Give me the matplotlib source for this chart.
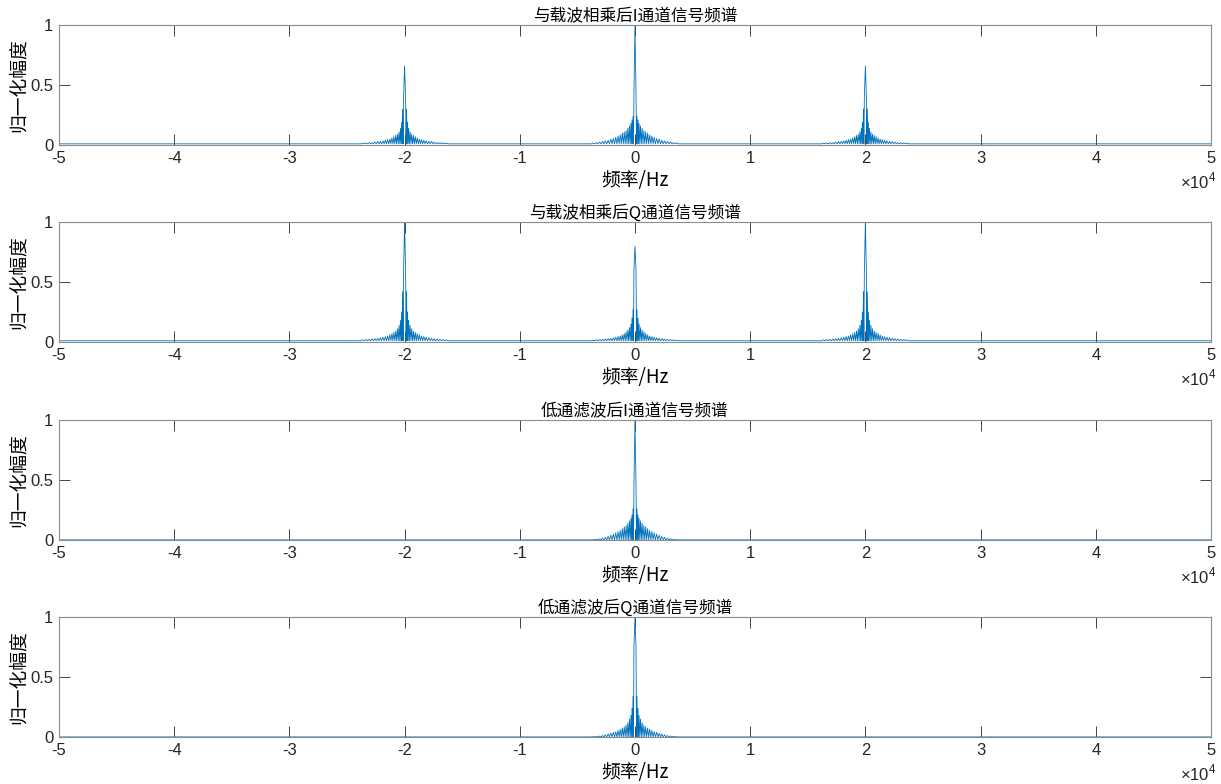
import numpy as np
import matplotlib
matplotlib.use("Agg")
import matplotlib.pyplot as plt

plt.rcParams['font.family'] = ['Noto Sans CJK SC', 'DejaVu Sans']
plt.rcParams['mathtext.fontset'] = 'custom'
plt.rcParams['mathtext.rm'] = 'Liberation Sans'

# Titles
titles = ["与载波相乘后I通道信号频谱", "与载波相乘后Q通道信号频谱",
          "低通滤波后I通道信号频谱", "低通滤波后Q通道信号频谱"]

# Axis ticks
x_ticks = [-50000, -40000, -30000, -20000, -10000, 0, 10000, 20000, 30000, 40000, 50000]
x_tick_labels = ["-5", "-4", "-3", "-2", "-1", "0", "1", "2", "3", "4", "5"]
y_ticks = [0, 0.5, 1]
y_tick_labels = ["0", "0.5", "1"]

# Spike offsets from each peak centre (Hz)
spike_offsets_hz = [0, 90, 170, 260, 350, 480, 620, 770, 930, 1100, 1280,
                    1470, 1670, 1880, 2100, 2330, 2570, 2820, 3080, 3350, 3630]

# Peak envelopes (normalized amplitude at each offset)
i_mix_center = [1.0, 0.43, 0.24, 0.21, 0.18, 0.16, 0.14, 0.12, 0.11, 0.10, 0.085,
                0.075, 0.065, 0.055, 0.05, 0.04, 0.035, 0.03, 0.025, 0.02, 0.018]
i_mix_side = [0.66, 0.39, 0.30, 0.19, 0.14, 0.11, 0.09, 0.08, 0.07, 0.06, 0.05,
              0.045, 0.04, 0.035, 0.03, 0.03, 0.025, 0.02, 0.02, 0.018, 0.015]
q_mix_center = [0.80, 0.60, 0.27, 0.20, 0.15, 0.12, 0.10, 0.085, 0.07, 0.06, 0.05,
                0.045, 0.04, 0.035, 0.03, 0.028, 0.025, 0.022, 0.02, 0.018, 0.015]
q_mix_side = [1.0, 0.57, 0.42, 0.25, 0.18, 0.14, 0.11, 0.09, 0.08, 0.07, 0.06,
              0.05, 0.045, 0.04, 0.035, 0.03, 0.028, 0.025, 0.022, 0.02, 0.018]
i_lpf_center = [1.0, 0.45, 0.26, 0.21, 0.18, 0.16, 0.14, 0.12, 0.11, 0.095, 0.08,
                0.07, 0.06, 0.05, 0.04, 0.03, 0.022, 0.015, 0.01, 0.006, 0.003]
q_lpf_center = [1.0, 0.75, 0.34, 0.24, 0.18, 0.15, 0.12, 0.10, 0.085, 0.075, 0.065,
                0.055, 0.045, 0.04, 0.032, 0.025, 0.018, 0.012, 0.008, 0.005, 0.003]

# Peak centres (Hz) and the floor level of each spectrum
mix_centers = [-20000, 0, 20000]
lpf_centers = [0]
mix_floor = 0.01
lpf_floor = 0.001


def make_peak(center, amps, floor):
    off = np.array(spike_offsets_hz, dtype=float)
    a = np.array(amps, dtype=float)
    rf, ra = [], []
    for i in range(1, len(off)):
        rf.append(off[i]); ra.append(a[i])
        nxt = off[i + 1] if i + 1 < len(off) else off[i] + 300
        rf.append((off[i] + nxt) / 2); ra.append(floor)
    rf = np.array(rf); ra = np.array(ra)
    f = np.concatenate([center - rf[::-1], [center], center + rf])
    v = np.concatenate([ra[::-1], [a[0]], ra])
    return f, v


def make_spectrum(centers, env_list, floor):
    fs, vs = [np.array([-50000.0])], [np.array([floor])]
    for c, env in zip(centers, env_list):
        f, v = make_peak(c, env, floor)
        fs.append(f); vs.append(v)
    fs.append(np.array([50000.0])); vs.append(np.array([floor]))
    return np.concatenate(fs), np.concatenate(vs)


spectra = [
    make_spectrum(mix_centers, [i_mix_side, i_mix_center, i_mix_side], mix_floor),
    make_spectrum(mix_centers, [q_mix_side, q_mix_center, q_mix_side], mix_floor),
    make_spectrum(lpf_centers, [i_lpf_center], lpf_floor),
    make_spectrum(lpf_centers, [q_lpf_center], lpf_floor),
]

fig = plt.figure(figsize=(12.21, 7.84), dpi=100)
bottoms = [0.815, 0.5638, 0.3112, 0.0599]
for k in range(4):
    ax = fig.add_axes([0.0483, bottoms[k], 0.9435, 0.153])
    f, v = spectra[k]
    ax.plot(f, v, color='#0072BD', linewidth=0.6)
    ax.set_xlim(-50000, 50000)
    ax.set_ylim(0, 1)
    ax.set_xticks(x_ticks)
    ax.set_xticklabels(x_tick_labels, family='Liberation Sans')
    ax.set_yticks(y_ticks)
    ax.set_yticklabels(y_tick_labels, family='Liberation Sans')
    ax.tick_params(direction='in', length=8, width=0.6, colors='#262626',
                   labelsize=12, top=True, right=True, pad=4)
    for s in ax.spines.values():
        s.set_color('#8c8c8c')
        s.set_linewidth(0.8)
    ax.set_title(titles[k], fontsize=12, pad=3, color='#000000')
    ax.set_xlabel("频率/Hz", fontsize=13.5, labelpad=3)
    ax.set_ylabel("归一化幅度", fontsize=13.5, labelpad=1)
    ax.text(1.005, -0.31, r'$\times10^{4}$', transform=ax.transAxes,
            ha='right', va='center', fontsize=12, color='#262626')

fig.savefig("out.png", dpi=100)
